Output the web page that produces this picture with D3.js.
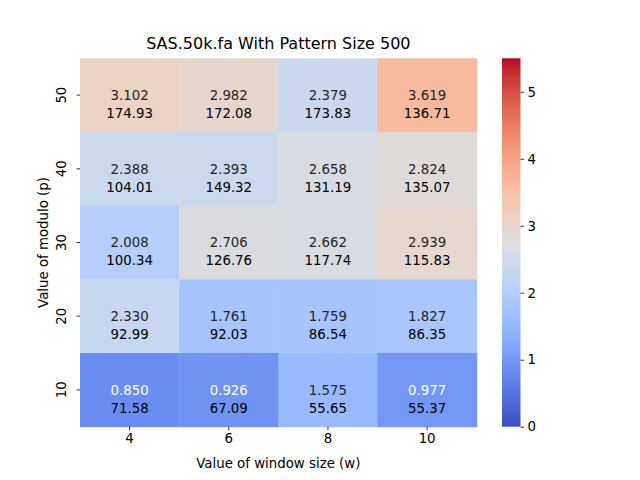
<!DOCTYPE html>
<html><head><meta charset="utf-8">
<script src="https://cdn.jsdelivr.net/npm/d3@7"></script>
<style>body{margin:0;background:#fff}svg{display:block}text{font-family:"DejaVu Sans",sans-serif}</style>
</head><body><svg id="c" width="640" height="480"></svg>
<script>
const windowSizes = ["4","6","8","10"];
const moduloValues = ["50","40","30","20","10"];
// ratio values (colored), rows top->bottom p=50..10, cols w=4..10
const ratioValues = [
  [3.102, 2.982, 2.379, 3.619],
  [2.388, 2.393, 2.658, 2.824],
  [2.008, 2.706, 2.662, 2.939],
  [2.330, 1.761, 1.759, 1.827],
  [0.850, 0.926, 1.575, 0.977]
];
const timeValues = [
  ["174.93","172.08","173.83","136.71"],
  ["104.01","149.32","131.19","135.07"],
  ["100.34","126.76","117.74","115.83"],
  ["92.99","92.03","86.54","86.35"],
  ["71.58","67.09","55.65","55.37"]
];
const colorbarTicks = [0,1,2,3,4,5];
const vmin = 0, vmax = 5.5;

const cw = [[59,76,192],[68,90,204],[77,104,215],[87,117,225],[98,130,234],[108,142,241],[119,154,247],[130,165,251],[141,176,254],[152,185,255],[163,194,255],[174,201,253],[184,208,249],[194,213,244],[204,217,238],[213,219,230],[221,221,221],[229,216,209],[236,211,197],[241,204,185],[245,196,173],[247,187,160],[247,177,148],[247,166,135],[244,154,123],[241,141,111],[236,127,99],[229,112,88],[222,96,77],[213,80,66],[203,62,56],[192,40,47],[180,4,38]];
function coolwarmRGB(t){
  t=Math.max(0,Math.min(1,t));
  const p=t*(cw.length-1), i=Math.min(cw.length-2,Math.floor(p)), f=p-i;
  return cw[i].map((v,k)=>v+(cw[i+1][k]-v)*f);
}
function coolwarm(t){const c=coolwarmRGB(t);return `rgb(${c.map(Math.round).join(",")})`;}
function lum(c){const l=c.map(v=>{v/=255;return v<=0.03928?v/12.92:Math.pow((v+0.055)/1.055,2.4)});return 0.2126*l[0]+0.7152*l[1]+0.0722*l[2];}

const svg=d3.select("#c");
const L=80,R=476.7,T=58.3,B=426.7;
const x=d3.scaleBand().domain(windowSizes).range([L,R]);
const y=d3.scaleBand().domain(moduloValues).range([T,B]);
const norm=d3.scaleLinear().domain([vmin,vmax]).range([0,1]);

const cells=[];
moduloValues.forEach((p,i)=>windowSizes.forEach((w,j)=>cells.push({p,w,v:ratioValues[i][j],t:timeValues[i][j]})));

svg.append("g").selectAll("rect").data(cells).join("rect")
  .attr("x",d=>x(d.w)).attr("y",d=>y(d.p)).attr("width",x.bandwidth()+0.5).attr("height",y.bandwidth()+0.5)
  .attr("fill",d=>coolwarm(norm(d.v)));

const ann=svg.append("g").attr("font-size","13.33px").attr("text-anchor","middle");
ann.selectAll("text.v").data(cells).join("text").attr("class","v")
  .attr("x",d=>x(d.w)+x.bandwidth()/2).attr("y",d=>y(d.p)+y.bandwidth()/2).attr("dy","0.36em")
  .attr("fill",d=>lum(coolwarmRGB(norm(d.v)))>0.408?"#262626":"#ffffff")
  .text(d=>d.v.toFixed(3));
ann.selectAll("text.t").data(cells).join("text").attr("class","t")
  .attr("x",d=>x(d.w)+x.bandwidth()/2).attr("y",d=>y(d.p)+y.bandwidth()/2+18).attr("dy","0.36em")
  .attr("fill","#000").text(d=>d.t);

// axes
const xa=svg.append("g").attr("transform",`translate(0,${B})`).call(d3.axisBottom(x).tickSize(3.5).tickPadding(3.5));
xa.select(".domain").remove();
xa.selectAll("text").attr("font-size","13.33px").attr("font-family","DejaVu Sans").attr("fill","#000");
xa.selectAll("line").attr("stroke","#000").attr("stroke-width",0.8);

const ya=svg.append("g").attr("transform",`translate(${L},0)`).call(d3.axisLeft(y).tickSize(3.5).tickPadding(3.5));
ya.select(".domain").remove();
ya.selectAll("line").attr("stroke","#000").attr("stroke-width",0.8);
ya.selectAll("text").attr("font-size","13.33px").attr("font-family","DejaVu Sans").attr("fill","#000")
  .attr("text-anchor","middle").attr("x",null).attr("dy",null)
  .attr("transform","translate(-14.5,0) rotate(-90)").attr("y",0).attr("dy","0em");

svg.append("text").attr("x",(L+R)/2).attr("y",467.5).attr("text-anchor","middle").attr("font-size","13.33px").text("Value of window size (w)");
svg.append("text").attr("transform",`translate(48,${(T+B)/2}) rotate(-90)`).attr("text-anchor","middle").attr("font-size","13.33px").text("Value of modulo (p)");
svg.append("text").attr("x",(L+R)/2).attr("y",48.5).attr("text-anchor","middle").attr("font-size","16px").text("SAS.50k.fa With Pattern Size 500");

// colorbar
const cbL=502,cbW=18.5;
const cy=d3.scaleLinear().domain([vmin,vmax]).range([B,T]);
const defs=svg.append("defs");
const grad=defs.append("linearGradient").attr("id","cbg").attr("x1",0).attr("y1",1).attr("x2",0).attr("y2",0);
d3.range(0,1.0001,1/32).forEach(t=>grad.append("stop").attr("offset",t).attr("stop-color",coolwarm(t)));
svg.append("rect").attr("x",cbL).attr("y",T).attr("width",cbW).attr("height",B-T).attr("fill","url(#cbg)");
const ca=svg.append("g").attr("transform",`translate(${cbL+cbW},0)`).call(d3.axisRight(cy).tickValues(colorbarTicks).tickFormat(d3.format("d")).tickSize(3.5).tickPadding(3.5));
ca.select(".domain").remove();
ca.selectAll("line").attr("stroke","#000").attr("stroke-width",0.8);
ca.selectAll("text").attr("font-size","13.33px").attr("font-family","DejaVu Sans").attr("fill","#000");
</script></body></html>
